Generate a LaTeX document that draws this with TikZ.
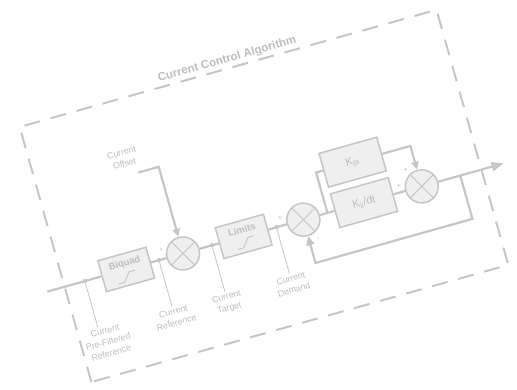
\documentclass[tikz,border=0pt]{standalone}
\usepackage{fontspec}
\setmainfont{Liberation Sans}
\usetikzlibrary{arrows.meta,positioning}
\definecolor{wire}{HTML}{C6C6C6}
\definecolor{blockfill}{HTML}{EFEFEF}
\definecolor{labelgray}{HTML}{BDBDBD}

\begin{document}
\begin{tikzpicture}[
  x=1pt, y=1pt,
  block/.style={draw=wire, fill=blockfill, line width=1.5pt, minimum width=50pt,
                minimum height=32pt, text depth=14pt, text=labelgray,
                font=\bfseries\fontsize{9.5}{11}\selectfont},
  gain/.style={draw=wire, fill=blockfill, line width=1.5pt, minimum width=60pt,
               minimum height=35pt, text=labelgray, font=\fontsize{11}{13}\selectfont},
  sumjn/.style={circle, draw=wire, fill=blockfill, line width=1.5pt,
                minimum size=33pt, inner sep=0pt,
                path picture={\draw[wire, line width=0.9pt]
                  (path picture bounding box.north west) -- (path picture bounding box.south east)
                  (path picture bounding box.south west) -- (path picture bounding box.north east);}},
  tap/.style={circle, fill=wire, inner sep=0pt, minimum size=4.5pt},
  note/.style={align=center, text=labelgray, font=\fontsize{8.8}{11.5}\selectfont, inner sep=1pt},
  sign/.style={text=labelgray, font=\fontsize{7}{7}\selectfont, inner sep=0pt},
  noteline/.style={draw=wire, line width=0.8pt},
  wireline/.style={draw=wire, line width=2.2pt},
  frame/.style={draw=wire, line width=2pt, dash pattern=on 16pt off 11pt},
  every edge/.style={draw=wire, line width=2.2pt}
]
\useasboundingbox (0,0) rectangle (517,389);
\begin{scope}[shift={(258,194)}, rotate=15.7, transform shape]
% outer frame and its title
\draw[frame] (-211,-135) rectangle (222,130);
\node[text=labelgray, font=\bfseries\fontsize{11.5}{13}\selectfont] (algname) at (7,139) {Current Control Algorithm};

% forward path
\coordinate (in) at (-229,-36);
\node[tap] (tpre) at (-190,-36) {};
\node[block] (biquad) at (-147,-36) {Biquad};
\node[tap] (tref) at (-113,-36) {};
\node[sumjn] (sum1) at (-88,-36) {};
\node[tap] (ttgt) at (-58,-36) {};
\node[block] (limits) at (-25,-36) {Limits};
\node[tap] (tdem) at (9,-36) {};
\node[sumjn] (sum2) at (37,-36) {};
\coordinate (split) at (62,-36);
\node[gain] (kpi) at (100,6) {K\textsubscript{pi}};
\node[gain] (kii) at (100,-36) {K\textsubscript{ii}/dt};
\node[sumjn] (sum3) at (160,-36) {};
\coordinate (fb) at (200,-36);
\coordinate (out) at (245,-36);

% saturation marks
\draw[wire, line width=0.9pt] ([shift={(-11,-12)}]biquad.center) -- ++(6,0) -- ++(7,9) -- ++(6,0);
\draw[wire, line width=0.9pt] ([shift={(-9,-11)}]limits.center) -- ++(6,0) -- ++(7,9) -- ++(6,0);

\path (in) edge (biquad)
      (biquad) edge (sum1)
      (sum1) edge (limits)
      (limits) edge (sum2)
      (sum2) edge (kii)
      (kii) edge (sum3)
      (sum3) edge[-{Triangle[length=12pt,width=9pt]}] (out);
\draw[wireline] (split) |- (kpi.west);
\draw[wireline, -{Triangle[length=8pt,width=7pt]}] (kpi.east) -| (sum3.north);
\draw[wireline, -{Triangle[length=9pt,width=8pt]}] (fb) -- ++(0,-45) -| (sum2.south);

% offset input
\node[note] (offlbl) at (-120,72) {Current\\Offset};
\coordinate (offset) at (-109,54);
\draw[wireline, -{Triangle[length=8pt,width=7pt]}] (offset) -| (sum1.north);

% signs
\node[sign] (s1) at (-108,-27) {+};
\node[sign] (s2) at (15,-28) {+};
\node[sign] (s3) at (46,-59) {-};
\node[sign] (s4) at (149,-16) {+};
\node[sign] (s5) at (138,-29) {+};

% signal names
\coordinate (tpreend) at (-190,-84);
\coordinate (trefend) at (-113,-84);
\coordinate (ttgtend) at (-58,-84);
\coordinate (tdemend) at (9,-84);
\draw[noteline] (tpre) -- (tpreend);
\draw[noteline] (tref) -- (trefend);
\draw[noteline] (ttgt) -- (ttgtend);
\draw[noteline] (tdem) -- (tdemend);
\node[note, below=1pt of tpreend, xshift=6pt] (prelbl) {Current\\Pre-Filtered\\Reference};
\node[note, below=1pt of trefend] (reflbl) {Current\\Reference};
\node[note, below=1pt of ttgtend] (tgtlbl) {Current\\Target};
\node[note, below=1pt of tdemend] (demlbl) {Current\\Demand};
\end{scope}
\end{tikzpicture}
\end{document}
